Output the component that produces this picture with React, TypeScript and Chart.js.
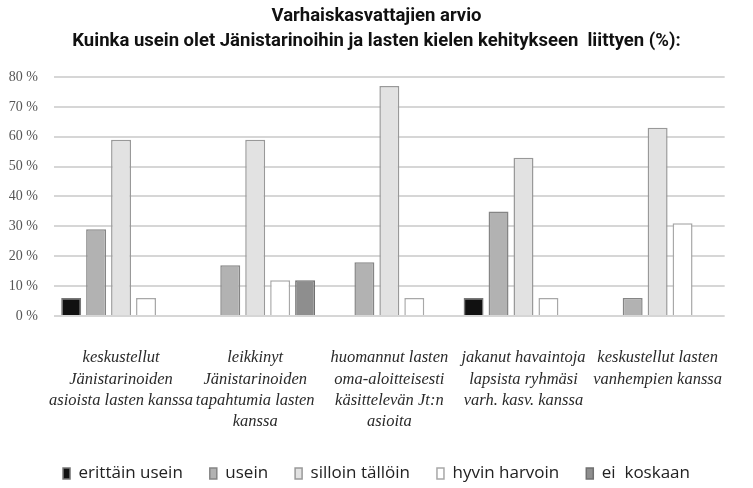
import React, { useEffect, useRef } from "react";
import { Chart, registerables } from "chart.js";

Chart.register(...registerables);

const categories: string[][] = [
  ["keskustellut", "Jänistarinoiden", "asioista lasten kanssa"],
  ["leikkinyt", "Jänistarinoiden", "tapahtumia lasten", "kanssa"],
  ["huomannut lasten", "oma-aloitteisesti", "käsittelevän Jt:n", "asioita"],
  ["jakanut havaintoja", "lapsista ryhmäsi", "varh. kasv. kanssa"],
  ["keskustellut lasten", "vanhempien kanssa"],
];

const seriesNames = ["erittäin usein", "usein", "silloin tällöin", "hyvin harvoin", "ei  koskaan"];

const erittainUsein = [6, 0, 0, 6, 0];
const usein = [29, 17, 18, 35, 6];
const silloinTalloin = [59, 59, 77, 53, 63];
const hyvinHarvoin = [6, 12, 6, 6, 31];
const eiKoskaan = [0, 12, 0, 0, 0];

const yTicks = [0, 10, 20, 30, 40, 50, 60, 70, 80];

const titleLines = [
  "Varhaiskasvattajien arvio",
  "Kuinka usein olet Jänistarinoihin ja lasten kielen kehitykseen  liittyen (%):",
];

const fills = ["#111111", "#b2b2b2", "#e2e2e2", "#ffffff", "#8e8e8e"];
const borders = ["#777777", "#858585", "#999999", "#a8a8a8", "#707070"];

export default function App() {
  const ref = useRef<HTMLCanvasElement | null>(null);

  useEffect(() => {
    if (!ref.current) return;
    const values = [erittainUsein, usein, silloinTalloin, hyvinHarvoin, eiKoskaan];
    const chart = new Chart(ref.current, {
      type: "bar",
      data: {
        labels: categories,
        datasets: seriesNames.map((name, i) => ({
          label: name,
          data: values[i],
          backgroundColor: fills[i],
          borderColor: borders[i],
          borderWidth: 1.5,
          categoryPercentage: 0.93,
          barPercentage: 0.8,
        })),
      },
      options: {
        animation: false,
        responsive: true,
        maintainAspectRatio: false,
        layout: { autoPadding: false, padding: { top: 0, bottom: -4, left: 0, right: 0 } },
        plugins: {
          title: {
            display: true,
            text: titleLines,
            color: "#111",
            font: { family: "Roboto, sans-serif", size: 18.5, weight: "bold", lineHeight: 1.35 },
            padding: { top: 3.5, bottom: 23.5 },
          },
          legend: {
            position: "bottom",
            labels: {
              boxWidth: 7,
              boxHeight: 11,
              padding: 27,
              color: "#222",
              font: { family: "'Open Sans', sans-serif", size: 17 },
            },
          },
          tooltip: { enabled: false },
        },
        scales: {
          x: {
            grid: { display: false, drawTicks: false },
            border: { display: false },
            ticks: {
              autoSkip: false,
              maxRotation: 0,
              minRotation: 0,
              padding: 31,
              color: "#2a2a2a",
              font: { family: "'Liberation Serif', serif", size: 16.5, style: "italic", lineHeight: 1.3 },
            },
            afterFit: (s: any) => {
              s.height = 122;
            },
          },
          y: {
            min: 0,
            max: 80,
            grid: { color: "#d6d6d6", lineWidth: 2, drawTicks: false },
            border: { display: false },
            afterBuildTicks: (s: any) => {
              s.ticks = yTicks.map((v) => ({ value: v }));
            },
            ticks: {
              padding: 16,
              color: "#555",
              font: { family: "'Liberation Serif', serif", size: 14 },
              callback: (v: any) => v + " %",
            },
            afterFit: (s: any) => {
              s.width = 54;
            },
          },
        },
      },
    });
    return () => chart.destroy();
  }, []);

  return (
    <div style={{ position: "absolute", left: 0, top: 0, width: 753, height: 488, background: "#fff" }}>
      <canvas ref={ref} />
    </div>
  );
}
